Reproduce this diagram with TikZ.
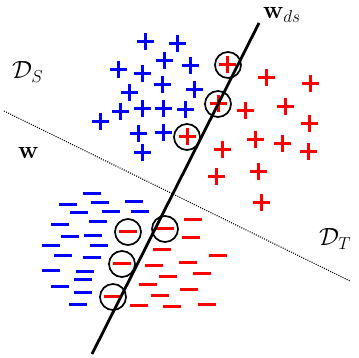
\documentclass[tikz,border=0pt]{standalone}
\usepackage{xcolor}
\usepackage{tikz}
\usetikzlibrary{arrows.meta, positioning, calc}
\definecolor{srcblue}{HTML}{0000FF}
\definecolor{tgtred}{HTML}{FF0000}
\tikzset{
  possign/.style={line width=3pt},
  negsign/.style={line width=3pt},
  svring/.style={circle, draw=black, line width=1.7pt, minimum size=26pt, inner sep=0pt},
  sepline/.style={line width=2.8pt, draw=black},
  oldline/.style={line width=1.1pt, draw=black, dash pattern=on 1pt off 1.3pt},
  lab/.style={font=\fontsize{24}{27}\selectfont, inner sep=0pt},
}

\begin{document}
\begin{tikzpicture}[x=1pt, y=-1pt]
  \useasboundingbox (0,0) rectangle (359,358);
  % old hyperplane w (dotted)
  \coordinate (wa) at (4,111);
  \coordinate (wb) at (350,281);
  \draw[oldline] (wa) -- (wb);
  % source positives
  \foreach \px/\py in {145/42, 177/44, 164/61, 118/70, 142/74, 190/66, 162/85, 129/93,
      194/90, 120/112, 142/109, 163/109, 185/110, 100/122, 138/134, 163/133, 142/153}
    \draw[possign, srcblue] (\px,\py) +(-8.5,0) -- +(8.5,0) +(0,-8.5) -- +(0,8.5);
  % target positives
  \foreach \px/\py in {227/65, 218/104, 187/137, 266/78, 310/84, 285/107, 245/111, 309/124,
      255/140, 282/144, 308/152, 222/150, 216/177, 258/172, 261/203}
    \draw[possign, tgtred] (\px,\py) +(-8.5,0) -- +(8.5,0) +(0,-8.5) -- +(0,8.5);
  % source negatives
  \foreach \px/\py in {92/194, 68/205, 100/203, 134/202, 79/213, 111/212, 140/212, 98/222,
      60/225, 70/237, 93/236, 51/246, 99/246, 63/256, 92/258, 51/271, 85/272, 83/280,
      60/287, 83/293, 78/305}
    \draw[negsign, srcblue] (\px,\py) +(-9,0) -- +(9,0);
  % target negatives
  \foreach \px/\py in {128/232, 165/229, 122/264, 113/297, 193/220, 191/238, 162/250, 218/256,
      188/263, 154/266, 202/274, 168/277, 148/285, 189/290, 160/296, 139/306, 172/307, 207/305}
    \draw[negsign, tgtred] (\px,\py) +(-9,0) -- +(9,0);
  % selected samples
  \node[svring] (sv1) at (228,65) {};
  \node[svring] (sv2) at (218,104) {};
  \node[svring] (sv3) at (187,137) {};
  \node[svring] (sv4) at (128,232) {};
  \node[svring] (sv5) at (165,229) {};
  \node[svring] (sv6) at (122,264) {};
  \node[svring] (sv7) at (113,297) {};
  % new hyperplane w_ds
  \coordinate (sa) at (92,354);
  \coordinate (sb) at (259,23);
  \draw[sepline] (sa) -- (sb);
  \node[lab, anchor=base west] (wds) at (263,19) {$\mathbf{w}_{ds}$};
  \node[lab, anchor=base west] (wold) at (18,159) {$\mathbf{w}$};
  \node[lab, anchor=base west] (dsrc) at (12,79) {$\mathcal{D}_S$};
  \node[lab, anchor=base west] (dtgt) at (319,246) {$\mathcal{D}_T$};
\end{tikzpicture}
\end{document}
